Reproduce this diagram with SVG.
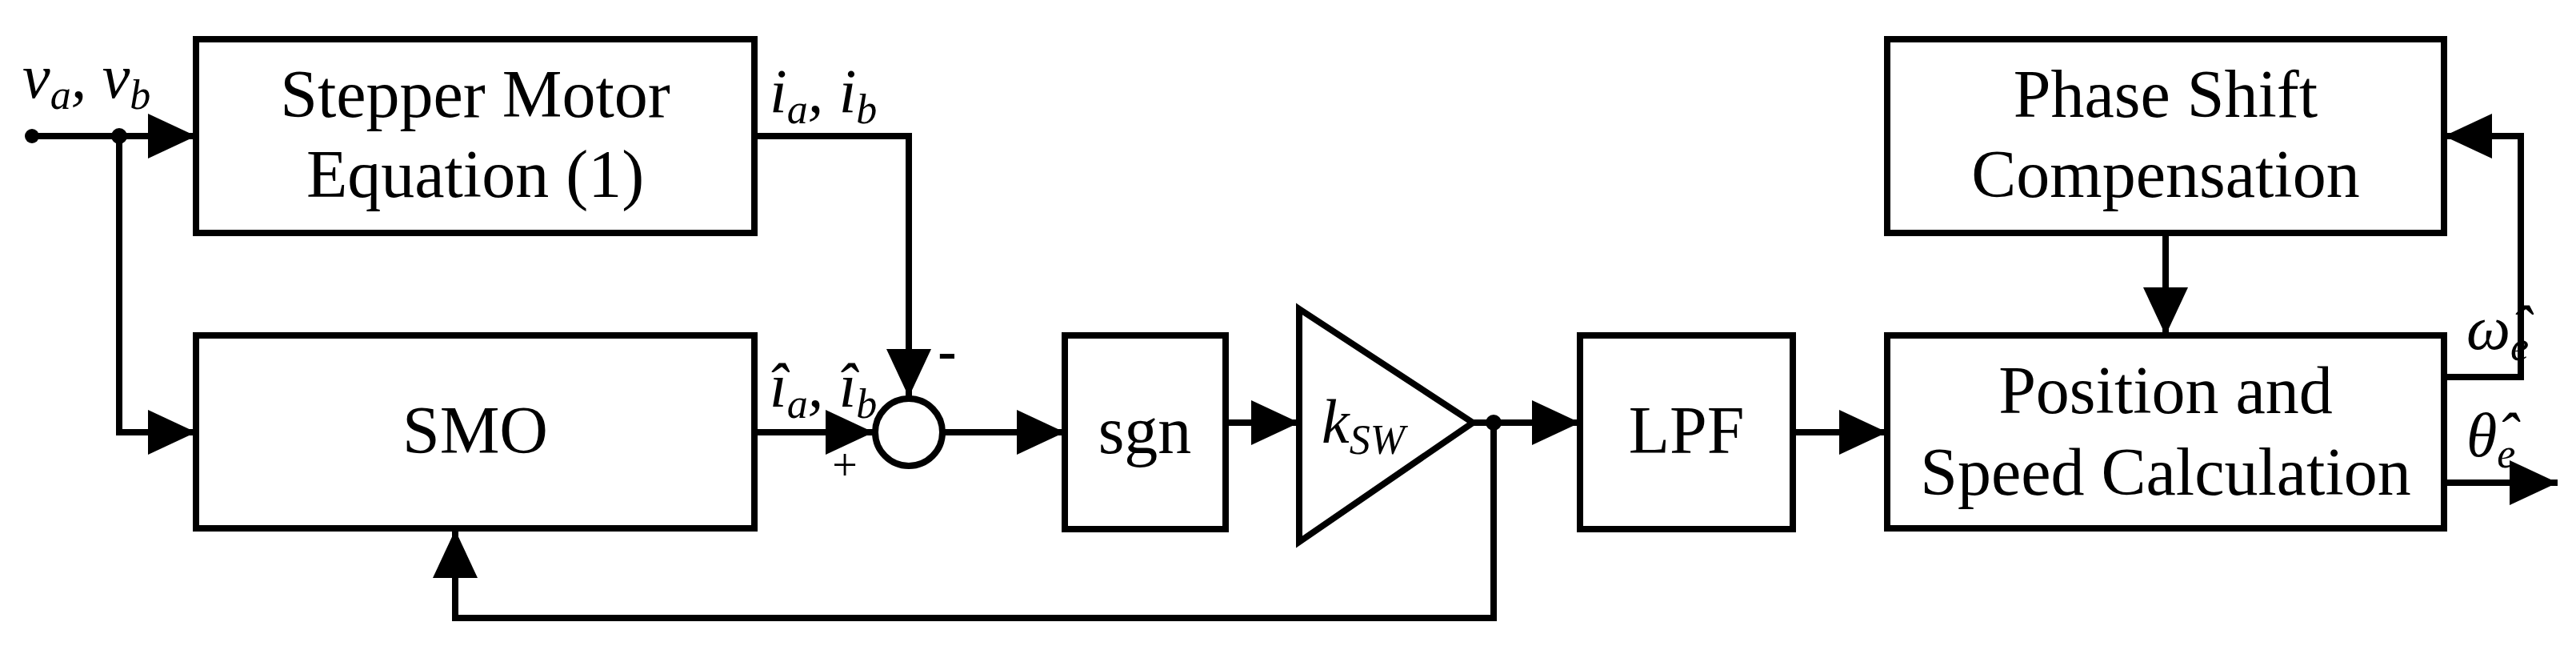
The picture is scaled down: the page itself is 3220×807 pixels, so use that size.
<svg xmlns="http://www.w3.org/2000/svg" width="3220" height="807" viewBox="0 0 3220 807">
<style>
.b{fill:#fff;stroke:#000;stroke-width:8}
.l{fill:none;stroke:#000;stroke-width:8}
.t{font-family:"Liberation Serif",serif;font-size:84px;text-anchor:middle;fill:#000}
.m{font-family:"Liberation Serif",serif;font-size:78px;font-style:italic;fill:#000}
.s{font-size:52px}
</style>
<defs>
<marker id="a" markerUnits="userSpaceOnUse" markerWidth="62" markerHeight="58" refX="60" refY="28" orient="auto"><path d="M0,0 L60,28 L0,56 z" fill="#000"/></marker>
</defs>
<g id="stepper"><rect class="b" x="245" y="49" width="698" height="242"/><text class="t" x="594" y="146">Stepper Motor</text><text class="t" x="594" y="246">Equation (1)</text></g>
<g id="smo"><rect class="b" x="245" y="419" width="698" height="241"/><text class="t" x="594" y="566">SMO</text></g>
<g id="sum"><circle cx="1136" cy="540" r="42" fill="#fff" stroke="#000" stroke-width="8"/></g>
<g id="sgn"><rect class="b" x="1331" y="419" width="201" height="242"/><text class="t" x="1431" y="566">sgn</text></g>
<g id="gain"><polygon class="b" points="1624,386 1841,528 1624,677"/><text class="m" x="1652" y="553">k<tspan class="s" dy="14">SW</tspan></text></g>
<g id="lpf"><rect class="b" x="1975" y="419" width="266" height="242"/><text class="t" x="2108" y="566">LPF</text></g>
<g id="phase"><rect class="b" x="2359" y="49" width="696" height="242"/><text class="t" x="2707" y="146">Phase Shift</text><text class="t" x="2707" y="246">Compensation</text></g>
<g id="pos"><rect class="b" x="2359" y="419" width="696" height="241"/><text class="t" x="2707" y="516">Position and</text><text class="t" x="2707" y="618">Speed Calculation</text></g>
<g id="connectors">
<circle cx="40" cy="170" r="9"/><circle cx="149" cy="170" r="10"/>
<path class="l" d="M40,170 H245" marker-end="url(#a)"/>
<path class="l" d="M149,170 V540 H245" marker-end="url(#a)"/>
<path class="l" d="M943,170 H1136 V496" marker-end="url(#a)"/>
<path class="l" d="M943,540 H1092" marker-end="url(#a)"/>
<path class="l" d="M1178,540 H1331" marker-end="url(#a)"/>
<path class="l" d="M1532,528 H1624" marker-end="url(#a)"/>
<path class="l" d="M1841,528 H1975" marker-end="url(#a)"/>
<circle cx="1867" cy="528" r="10"/>
<path class="l" d="M1867,528 V772 H569 V662" marker-end="url(#a)"/>
<path class="l" d="M2241,540 H2359" marker-end="url(#a)"/>
<path class="l" d="M2707,291 V419" marker-end="url(#a)"/>
<path class="l" d="M3055,471 H3151 V170 H3055" marker-end="url(#a)"/>
<path class="l" d="M3055,603 H3197" marker-end="url(#a)"/>
</g>
<g id="labels">
<text class="m" x="28" y="122">v<tspan class="s" dy="14">a</tspan><tspan dy="-14">, v</tspan><tspan class="s" dy="14">b</tspan></text>
<text class="m" x="962" y="140">i<tspan class="s" dy="14">a</tspan><tspan dy="-14">, i</tspan><tspan class="s" dy="14">b</tspan></text>
<text class="m" x="962" y="508">î<tspan class="s" dy="14">a</tspan><tspan dy="-14">, î</tspan><tspan class="s" dy="14">b</tspan></text>
<text class="t" x="1056" y="600" style="font-size:56px">+</text>
<text class="t" x="1184" y="462" style="font-size:70px;font-weight:bold">-</text>
<text class="m" x="3083" y="436">ω̂<tspan class="s" dy="14">e</tspan></text>
<text class="m" x="3083" y="570">θ̂<tspan class="s" dy="14">e</tspan></text>
</g>
</svg>
